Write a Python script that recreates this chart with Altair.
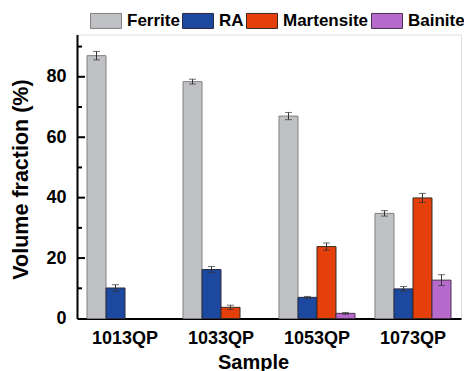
import altair as alt
import pandas as pd

samples = ["1013QP", "1033QP", "1053QP", "1073QP"]
phases = ["Ferrite", "RA", "Martensite", "Bainite"]
ferrite = [87.0, 78.4, 67.0, 34.8]
ferrite_err = [1.4, 0.8, 1.2, 0.9]
ra = [10.1, 16.2, 7.0, 9.8]
ra_err = [1.1, 1.0, 0.3, 0.8]
martensite = [0.0, 3.7, 23.8, 39.9]
martensite_err = [0.0, 0.7, 1.2, 1.5]
bainite = [0.0, 0.0, 1.7, 12.7]
bainite_err = [0.0, 0.0, 0.3, 1.8]
fills = ["#c0c1c5", "#1c48a0", "#e5400c", "#b56acc"]
strokes = ["#808080", "#2a2a40", "#3a2a20", "#4a3050"]
y_labels = [0, 20, 40, 60, 80]
major_ticks = [20, 40, 60, 80]
minor_ticks = [10, 30, 50, 70, 90]

rows = []
for vals, errs, ph in [(ferrite, ferrite_err, "Ferrite"), (ra, ra_err, "RA"),
                       (martensite, martensite_err, "Martensite"), (bainite, bainite_err, "Bainite")]:
    for s, v, e in zip(samples, vals, errs):
        rows.append({"sample": s, "phase": ph, "value": v, "lo": v - e, "hi": v + e})
df = pd.DataFrame(rows)

FONT = "Liberation Sans"
yscale = alt.Scale(domain=[0, 94], nice=False, zero=True)
yaxis = alt.Axis(title="Volume fraction (%)", values=y_labels, ticks=False, grid=False,
                 labelPadding=11, labelFontSize=18, labelFont=FONT, labelFontWeight="bold",
                 labelColor="black", titleFontSize=21.5, titleFont=FONT, titleFontWeight="bold",
                 titleColor="black", titlePadding=13, titleY=144.5,
                 domainColor="black", domainWidth=2)
xaxis = alt.Axis(title="Sample", labelAngle=0, ticks=False, labelPadding=11,
                 labelFontSize=18, labelFont=FONT, labelFontWeight="bold", labelColor="black",
                 titleFontSize=20, titleFont=FONT, titleFontWeight="bold", titleColor="black",
                 titleX=176, titleY=49.5, titleBaseline="alphabetic",
                 domainColor="black", domainWidth=2)
xscale = alt.Scale(domain=samples, paddingInner=0.2083, paddingOuter=0.1042)
xenc = alt.X("sample:N", scale=xscale, sort=samples, axis=xaxis)
xoff = alt.XOffset("phase:N", scale=alt.Scale(domain=phases, paddingInner=0, paddingOuter=0), sort=phases)

base = alt.Chart(df).transform_filter("datum.value > 0")

bars = base.mark_bar(strokeWidth=1).encode(
    x=xenc,
    xOffset=xoff,
    y=alt.Y("value:Q", scale=yscale, axis=yaxis),
    color=alt.Color("phase:N", scale=alt.Scale(domain=phases, range=fills), sort=phases,
                    legend=alt.Legend(title=None, orient="none", direction="horizontal",
                                      legendX=13, legendY=-29.8,
                                      symbolType="M-1,-0.484H1V0.484H-1Z", symbolSize=961,
                                      symbolStrokeColor="#555555", symbolStrokeWidth=1,
                                      labelFont=FONT, labelFontSize=17, labelFontWeight="bold",
                                      labelColor="black", labelOffset=5, columnPadding=0,
                                      padding=0, symbolOpacity=1)),
    stroke=alt.Stroke("phase:N", scale=alt.Scale(domain=phases, range=strokes), legend=None),
)

err = base.mark_rule(color="#333333", strokeWidth=1).encode(
    x=xenc, xOffset=xoff,
    y=alt.Y("lo:Q", scale=yscale, axis=yaxis), y2="hi:Q")
cap_hi = base.mark_tick(color="#333333", thickness=1, size=7, orient="horizontal").encode(
    x=xenc, xOffset=xoff,
    y=alt.Y("hi:Q", scale=yscale, axis=yaxis))
cap_lo = base.mark_tick(color="#333333", thickness=1, size=7, orient="horizontal").encode(
    x=xenc, xOffset=xoff,
    y=alt.Y("lo:Q", scale=yscale, axis=yaxis))

major = alt.Chart(pd.DataFrame({"t": major_ticks})).mark_rule(color="black", strokeWidth=2).encode(
    y=alt.Y("t:Q", scale=yscale, axis=yaxis), x=alt.value(0), x2=alt.value(8))
minor = alt.Chart(pd.DataFrame({"t": minor_ticks})).mark_rule(color="black", strokeWidth=2).encode(
    y=alt.Y("t:Q", scale=yscale, axis=yaxis), x=alt.value(0), x2=alt.value(5))

chart = alt.layer(bars, err, cap_hi, cap_lo, major, minor).properties(
    width=384, height=284,
    autosize=alt.AutoSizeParams(type="none"),
    padding={"left": 77, "top": 34.5, "right": 3, "bottom": 52.5},
).configure_view(stroke="black", strokeWidth=2).configure(background="white")

chart.save("out.html", embed_options={"renderer": "svg", "actions": False})
